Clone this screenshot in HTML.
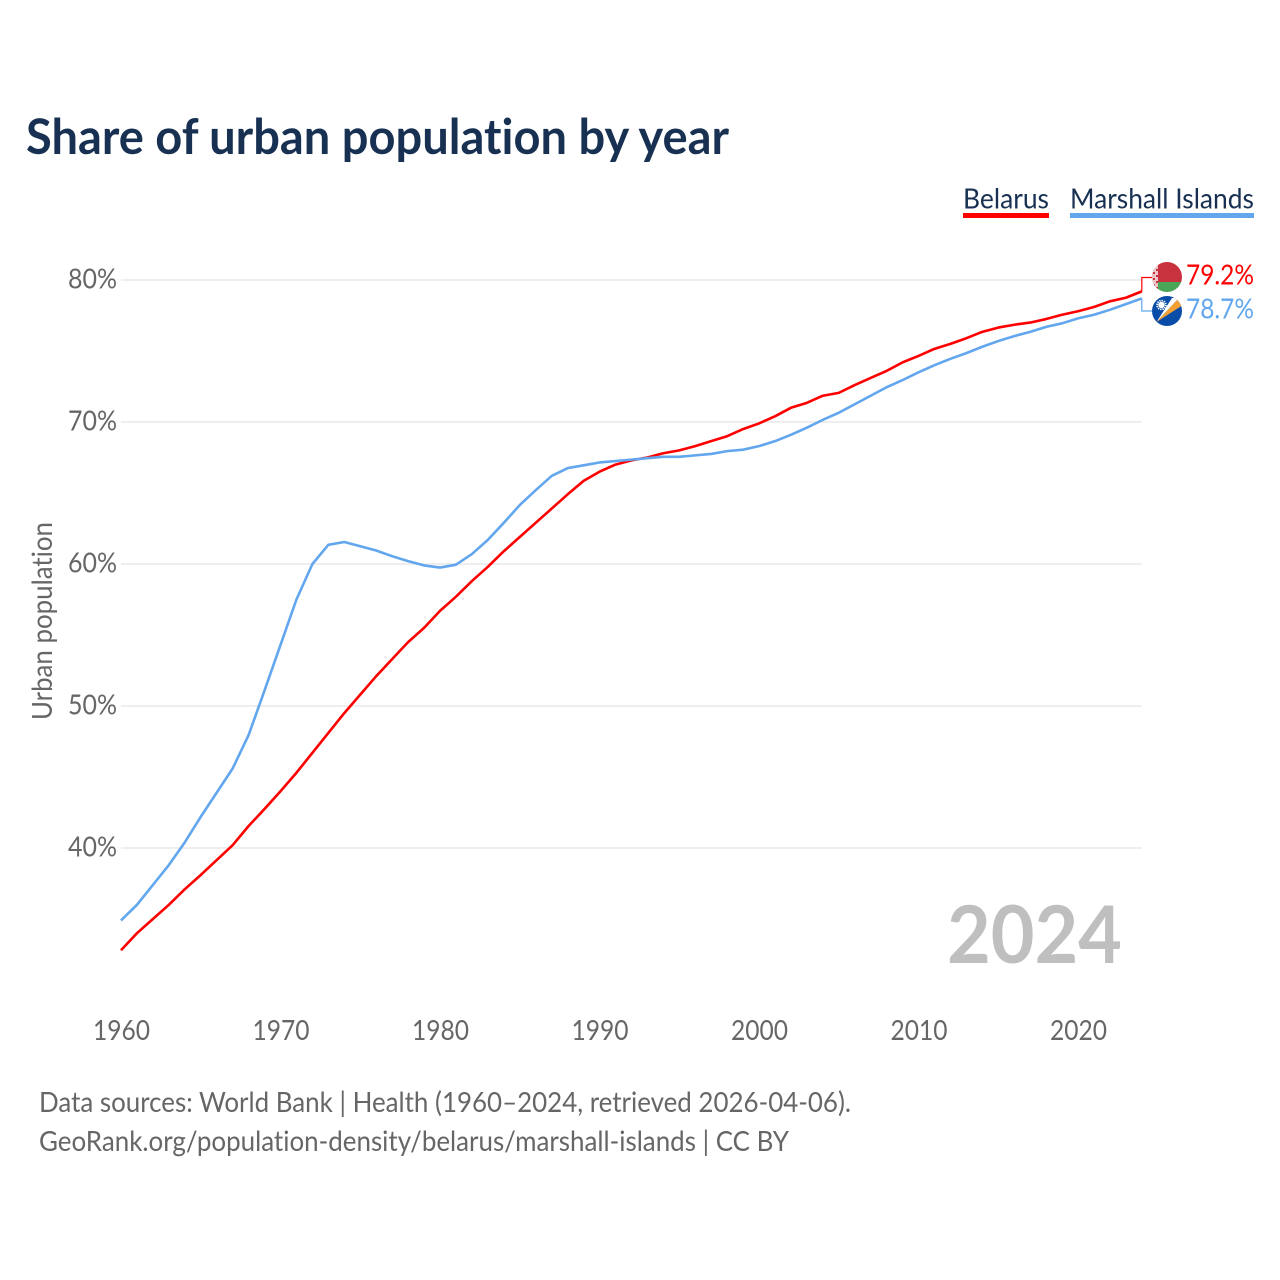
<!DOCTYPE html>
<html lang="en">
<head>
<meta charset="utf-8">
<title>Share of urban population by year</title>
<style>
html,body{margin:0;padding:0;background:#fff;width:1280px;height:1280px;overflow:hidden}
svg{display:block;font-family:"Lato","Carlito","Liberation Sans",sans-serif;font-variant-ligatures:none}
</style>
</head>
<body>
<svg id="chart" width="1280" height="1280" viewBox="0 0 1280 1280" xmlns="http://www.w3.org/2000/svg">
  <defs>
    <clipPath id="clip-by"><circle cx="1167" cy="277" r="15"/></clipPath>
    <clipPath id="clip-mh"><circle cx="1167" cy="311" r="15"/></clipPath>
  </defs>
  <rect x="0" y="0" width="1280" height="1280" fill="#ffffff"/>
  <text x="26" y="154" font-size="49" font-weight="700" fill="#183153" textLength="703" lengthAdjust="spacingAndGlyphs">Share of urban population by year</text>

  <g id="grid"></g>
  <g id="y-ticks"></g>
  <g id="x-ticks"></g>
  <text transform="translate(52,720) rotate(-90)" font-size="28" fill="#666666" textLength="198" lengthAdjust="spacingAndGlyphs">Urban population</text>

  <text x="1122" y="963" text-anchor="end" font-size="80" font-weight="700" fill="#bfbfbf" textLength="175" lengthAdjust="spacingAndGlyphs">2024</text>

  <g id="series"></g>

  <g>
    <text x="963" y="208.5" font-size="28.5" fill="#183153" textLength="86" lengthAdjust="spacingAndGlyphs">Belarus</text>
    <rect x="963" y="213" width="86" height="5" fill="#ff0000"/>
  </g>
  <g>
    <text x="1070" y="208.5" font-size="28.5" fill="#183153" textLength="184" lengthAdjust="spacingAndGlyphs">Marshall Islands</text>
    <rect x="1070" y="213" width="184" height="5" fill="#62a6ee"/>
  </g>

  <g clip-path="url(#clip-by)">
    <rect x="1152" y="262" width="30" height="20" fill="#c8313e"/>
    <rect x="1152" y="282" width="30" height="10" fill="#4aa657"/>
    <rect x="1152" y="262" width="6" height="30" fill="#ecc6c8"/>
    <path d="M1153 266h2v2h-2zM1156 269h2v2h-2zM1153 272h2v2h-2zM1156 275h2v2h-2zM1153 278h2v2h-2zM1156 281h2v2h-2zM1153 284h2v2h-2zM1156 287h2v2h-2z" fill="#c8313e"/>
  </g>
  <g clip-path="url(#clip-mh)">
    <rect x="1152" y="296" width="30" height="30" fill="#0a4da8"/>
    <path d="M1156.5 322L1179 298L1172 298Z" fill="#ffffff"/>
    <path d="M1156.5 322L1183 305L1179 298Z" fill="#f5a033"/>
    <circle cx="1161.5" cy="305" r="3.2" fill="#ffffff"/>
    <circle cx="1161.5" cy="305" r="4.4" fill="none" stroke="#ffffff" stroke-width="1.8" stroke-dasharray="1.3 1"/>
  </g>

  <text x="1254" y="284.5" text-anchor="end" font-size="28" fill="#ff0000" textLength="68" lengthAdjust="spacingAndGlyphs">79.2%</text>
  <text x="1254" y="318.5" text-anchor="end" font-size="28" fill="#62a6ee" textLength="68" lengthAdjust="spacingAndGlyphs">78.7%</text>

  <text x="39" y="1112" font-size="28" fill="#666666" textLength="812" lengthAdjust="spacingAndGlyphs">Data sources: World Bank | Health (1960–2024, retrieved 2026-04-06).</text>
  <text x="39" y="1151" font-size="28" fill="#666666" textLength="750" lengthAdjust="spacingAndGlyphs">GeoRank.org/population-density/belarus/marshall-islands | CC BY</text>
</svg>
<script>
const years = [1960,1961,1962,1963,1964,1965,1966,1967,1968,1969,1970,1971,1972,1973,1974,1975,1976,1977,1978,1979,1980,1981,1982,1983,1984,1985,1986,1987,1988,1989,1990,1991,1992,1993,1994,1995,1996,1997,1998,1999,2000,2001,2002,2003,2004,2005,2006,2007,2008,2009,2010,2011,2012,2013,2014,2015,2016,2017,2018,2019,2020,2021,2022,2023,2024];
const belarus = [32.8,34.0,35.0,36.0,37.1,38.1,39.15,40.2,41.55,42.75,44.0,45.3,46.7,48.1,49.5,50.8,52.1,53.3,54.5,55.5,56.7,57.7,58.8,59.8,60.9,61.9,62.9,63.9,64.9,65.85,66.5,67.0,67.3,67.5,67.8,68.0,68.3,68.65,69.0,69.5,69.9,70.4,71.0,71.35,71.85,72.05,72.6,73.1,73.6,74.2,74.65,75.15,75.5,75.9,76.35,76.65,76.85,77.0,77.25,77.55,77.8,78.1,78.5,78.75,79.2];
const marshallIslands = [34.9,36.0,37.4,38.8,40.4,42.2,43.9,45.6,47.95,51.1,54.3,57.5,60.0,61.35,61.55,61.25,60.95,60.55,60.2,59.9,59.75,59.95,60.7,61.7,62.9,64.15,65.2,66.2,66.75,66.95,67.15,67.25,67.35,67.45,67.55,67.55,67.65,67.75,67.95,68.05,68.3,68.65,69.1,69.6,70.15,70.65,71.25,71.85,72.45,72.95,73.5,74.0,74.45,74.85,75.3,75.7,76.05,76.35,76.7,76.95,77.3,77.55,77.9,78.3,78.7];
const yTicks = [40,50,60,70,80];
const xTicks = [1960,1970,1980,1990,2000,2010,2020];

const NS = 'http://www.w3.org/2000/svg';
function xScale(year){ return 121 + (year - 1960) * 15.95; }
function yScale(value){ return 280 + (80 - value) * 14.2; }

const gridGroup = document.getElementById('grid');
const yGroup = document.getElementById('y-ticks');
const xGroup = document.getElementById('x-ticks');
const seriesGroup = document.getElementById('series');

yTicks.forEach(function(t){
  const line = document.createElementNS(NS, 'line');
  
  
  line.setAttribute('x1', xScale(1960));
  line.setAttribute('x2', xScale(2024));
  line.setAttribute('y1', yScale(t));
  line.setAttribute('y2', yScale(t));
  line.setAttribute('stroke', '#eeeeee');
  line.setAttribute('stroke-width', '2');
  gridGroup.appendChild(line);

  const label = document.createElementNS(NS, 'text');
  
  
  label.setAttribute('x', 117);
  label.setAttribute('y', yScale(t) + 8.5);
  label.setAttribute('text-anchor', 'end');
  label.setAttribute('font-size', '28');
  label.setAttribute('fill', '#666666');
  label.setAttribute('textLength', '49');
  label.setAttribute('lengthAdjust', 'spacingAndGlyphs');
  label.textContent = t + '%';
  yGroup.appendChild(label);
});

xTicks.forEach(function(t){
  const label = document.createElementNS(NS, 'text');
  
  
  label.setAttribute('x', xScale(t) + 0.5);
  label.setAttribute('y', 1040);
  label.setAttribute('text-anchor', 'middle');
  label.setAttribute('font-size', '28');
  label.setAttribute('fill', '#666666');
  label.setAttribute('textLength', '57');
  label.setAttribute('lengthAdjust', 'spacingAndGlyphs');
  label.textContent = t;
  xGroup.appendChild(label);
});

function drawSeries(values, color, name, connectorY){
  const pts = values.map(function(v, i){
    return xScale(years[i]).toFixed(2) + ',' + yScale(v).toFixed(2);
  });
  const path = document.createElementNS(NS, 'polyline');
  
  
  path.setAttribute('points', pts.join(' '));
  path.setAttribute('fill', 'none');
  path.setAttribute('stroke', color);
  path.setAttribute('stroke-width', '2.6');
  path.setAttribute('stroke-linejoin', 'round');
  seriesGroup.appendChild(path);

  const endX = xScale(years[years.length - 1]);
  const endY = yScale(values[values.length - 1]);
  const conn = document.createElementNS(NS, 'polyline');
  
  
  conn.setAttribute('points', endX + ',' + endY + ' ' + endX + ',' + connectorY + ' 1152,' + connectorY);
  conn.setAttribute('fill', 'none');
  conn.setAttribute('stroke', color);
  conn.setAttribute('stroke-width', '1.2');
  seriesGroup.appendChild(conn);
}
drawSeries(belarus, '#ff0000', 'belarus', 277.5);
drawSeries(marshallIslands, '#62a6ee', 'marshall-islands', 311);
</script>
</body>
</html>
